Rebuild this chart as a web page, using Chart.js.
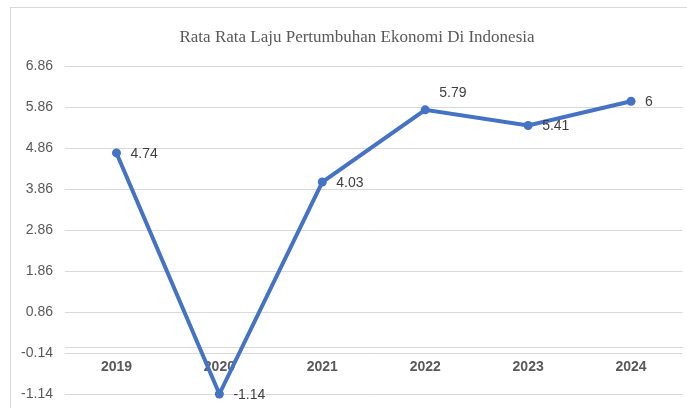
<!DOCTYPE html>
<html>
<head>
<meta charset="utf-8">
<script src="https://cdn.jsdelivr.net/npm/chart.js@4.4.1/dist/chart.umd.min.js"></script>
<style>
  html, body { margin: 0; padding: 0; background: #ffffff; }
  #wrap { position: relative; width: 687px; height: 408px; overflow: hidden; }
  #frame { position: absolute; left: 10px; top: 7px; width: 700px; height: 420px; border: 1px solid #d9d9d9; }
  #myChart { position: absolute; left: 0; top: 0; }
</style>
</head>
<body>
<div id="wrap">
  <div id="frame"></div>
  <canvas id="myChart" width="687" height="408"></canvas>
</div>
<script>
const ctx = document.getElementById("myChart").getContext("2d");

// Data
const tahunLabels = ["2019", "2020", "2021", "2022", "2023", "2024"];
const lajuPertumbuhan = [4.74, -1.14, 4.03, 5.79, 5.41, 6];
const yTicks = [-1.14, -0.14, 0.86, 1.86, 2.86, 3.86, 4.86, 5.86, 6.86];
const judul = "Rata Rata Laju Pertumbuhan Ekonomi Di Indonesia";

// Judul digambar sendiri supaya di tengah bingkai
const judulPlugin = {
  id: "judul",
  afterDraw(chart, args, opts) {
    const c = chart.ctx;
    c.save();
    c.font = "17px 'Liberation Serif', 'Times New Roman', serif";
    c.fillStyle = "#595959";
    c.textAlign = "center";
    c.textBaseline = "alphabetic";
    c.fillText(opts.text, opts.x, opts.y);
    c.restore();
  },
};

// Label data di samping titik
const dataLabelPlugin = {
  id: "dataLabels",
  afterDatasetsDraw(chart, args, opts) {
    const c = chart.ctx;
    const placements = opts.placements || [];
    chart.data.datasets.forEach((dataset, di) => {
      const meta = chart.getDatasetMeta(di);
      meta.data.forEach((pt, i) => {
        const place = placements[i] || "right";
        let x = pt.x + 14;
        let y = pt.y + 1;
        if (place === "above") {
          y = pt.y - 17;
        }
        c.save();
        c.font = "14px 'Liberation Sans', Arial, sans-serif";
        c.fillStyle = "#404040";
        c.textAlign = "left";
        c.textBaseline = "middle";
        c.fillText(String(dataset.data[i]), x, y);
        c.restore();
      });
    });
  },
};

const myChart = new Chart(ctx, {
  type: "line",
  data: {
    labels: tahunLabels,
    datasets: [
      {
        label: judul,
        data: lajuPertumbuhan,
        borderColor: "#4472C4",
        backgroundColor: "#4472C4",
        borderWidth: 4,
        pointRadius: 4.5,
        pointHoverRadius: 4.5,
        pointBorderWidth: 0,
        tension: 0,
        clip: false,
      },
    ],
  },
  plugins: [dataLabelPlugin, judulPlugin],
  options: {
    responsive: false,
    animation: { duration: 0 },
    layout: {
      padding: { top: 66, right: 2, bottom: 14, left: 0 },
    },
    scales: {
      y: {
        min: -1.14,
        max: 6.86,
        afterBuildTicks(scale) {
          scale.ticks = yTicks.map((v) => ({ value: v }));
        },
        afterFit(scale) {
          scale.width = 65;
          scale.paddingTop = 0;
          scale.paddingBottom = 0;
        },
        ticks: {
          color: "#595959",
          padding: 12,
          font: { size: 14, family: "'Liberation Sans', Arial, sans-serif" },
          callback: (v) => Number(v).toFixed(2),
        },
        grid: {
          color: "#d9d9d9",
          lineWidth: 1,
          drawTicks: false,
        },
        border: { display: false },
      },
      x: {
        type: "category",
        offset: true,
        position: { y: 0 },
        afterFit(scale) {
          scale.height = 0;
        },
        ticks: {
          color: "#595959",
          padding: 11,
          font: { size: 14, weight: "bold", family: "'Liberation Sans', Arial, sans-serif" },
        },
        grid: {
          color: "transparent",
          drawTicks: false,
        },
        border: { display: true, color: "#d9d9d9", width: 1 },
      },
    },
    plugins: {
      tooltip: { enabled: false },
      legend: { display: false },
      title: { display: false },
      judul: { text: judul, x: 357, y: 42 },
      dataLabels: {
        placements: ["right", "right", "right", "above", "right", "right"],
      },
    },
  },
});
</script>
</body>
</html>
